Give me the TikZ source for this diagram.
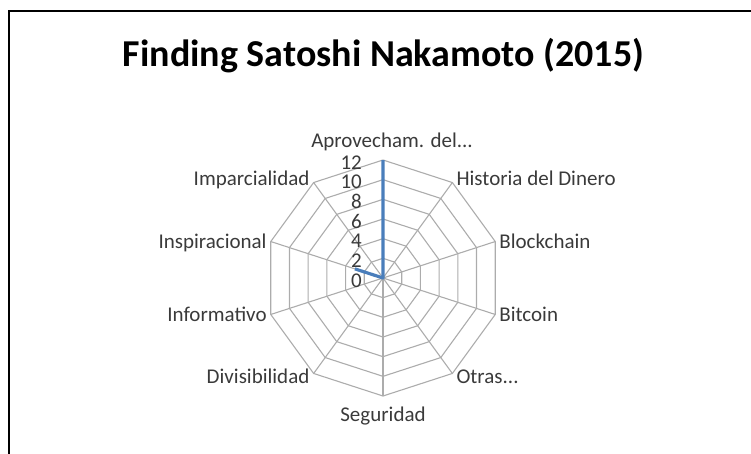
\documentclass[tikz,border=0pt]{standalone}
\usepackage{fontspec}
\setmainfont{Carlito}
\usetikzlibrary{calc}
\usetikzlibrary{positioning}

\definecolor{serieblue}{RGB}{74,126,187}
\definecolor{labelgray}{RGB}{58,58,58}
\definecolor{gridgray}{RGB}{172,172,172}

\begin{document}
\begin{tikzpicture}[x=1pt, y=1pt]
        % Define styles
        \tikzstyle{gridline} = [draw=gridgray, line width=1.1pt]
        \tikzstyle{dataline} = [draw=serieblue, line width=3.2pt, line join=round]
        \tikzstyle{axislabel} = [inner sep=0pt, text=labelgray, font=\fontsize{21}{22}\selectfont, text height=14pt, text depth=0pt]
        \tikzstyle{valuelabel} = [axislabel, anchor=east]
        \useasboundingbox (-383,-175) rectangle (368,278);
        % Frame and title
        \draw[line width=2pt] (-374,-180) -- (-374,267) -- (372,267);
        \node[font=\bfseries\fontsize{38}{40}\selectfont, anchor=base] (title) at (0.5,211) {Finding Satoshi Nakamoto (2015)};

        % Centre and axis ends
        \coordinate (o) at (0,0);
        \foreach \i in {0,...,9} {
            \coordinate (v\i) at ({90-36*\i}:118);
        }
        % Draw grid
        \foreach \k in {1,...,6} {
            \draw[gridline] (90:{\k*19.667}) \foreach \j in {1,...,9} { -- ({90-36*\j}:{\k*19.667}) } -- cycle;
        }
        \foreach \i in {0,...,9} \draw[gridline] (o) -- (v\i);

        % Value labels
        \foreach \v in {0,2,...,12} \node[valuelabel] (val\v) at (-21,{\v*9.833-2}) {\v};

        % Axis labels
        \node[axislabel, anchor=base] (lab0) at (9,131) {Aprovecham. del...};
        \node[axislabel, anchor=west] (lab1) at ([xshift=4pt, yshift=4pt]v1) {Historia del Dinero};
        \node[axislabel, anchor=west] (lab2) at ([xshift=4pt]v2) {Blockchain};
        \node[axislabel, anchor=west] (lab3) at ([xshift=4pt]v3) {Bitcoin};
        \node[axislabel, anchor=west] (lab4) at ([xshift=4pt, yshift=-3.5pt]v4) {Otras...};
        \node[axislabel, anchor=north] (lab5) at ([yshift=-11pt]v5) {Seguridad};
        \node[axislabel, anchor=east] (lab6) at ([xshift=-4pt, yshift=-3.5pt]v6) {Divisibilidad};
        \node[axislabel, anchor=east] (lab7) at ([xshift=-4pt]v7) {Informativo};
        \node[axislabel, anchor=east] (lab8) at ([xshift=-4pt]v8) {Inspiracional};
        \node[axislabel, anchor=east] (lab9) at ([xshift=-4pt, yshift=4pt]v9) {Imparcialidad};

        % Draw data
        \coordinate (d0) at (90:118);
        \coordinate (d8) at (162:29.5);
        \draw[dataline] (d0) -- (o) -- (d8);
    \end{tikzpicture}
\end{document}
